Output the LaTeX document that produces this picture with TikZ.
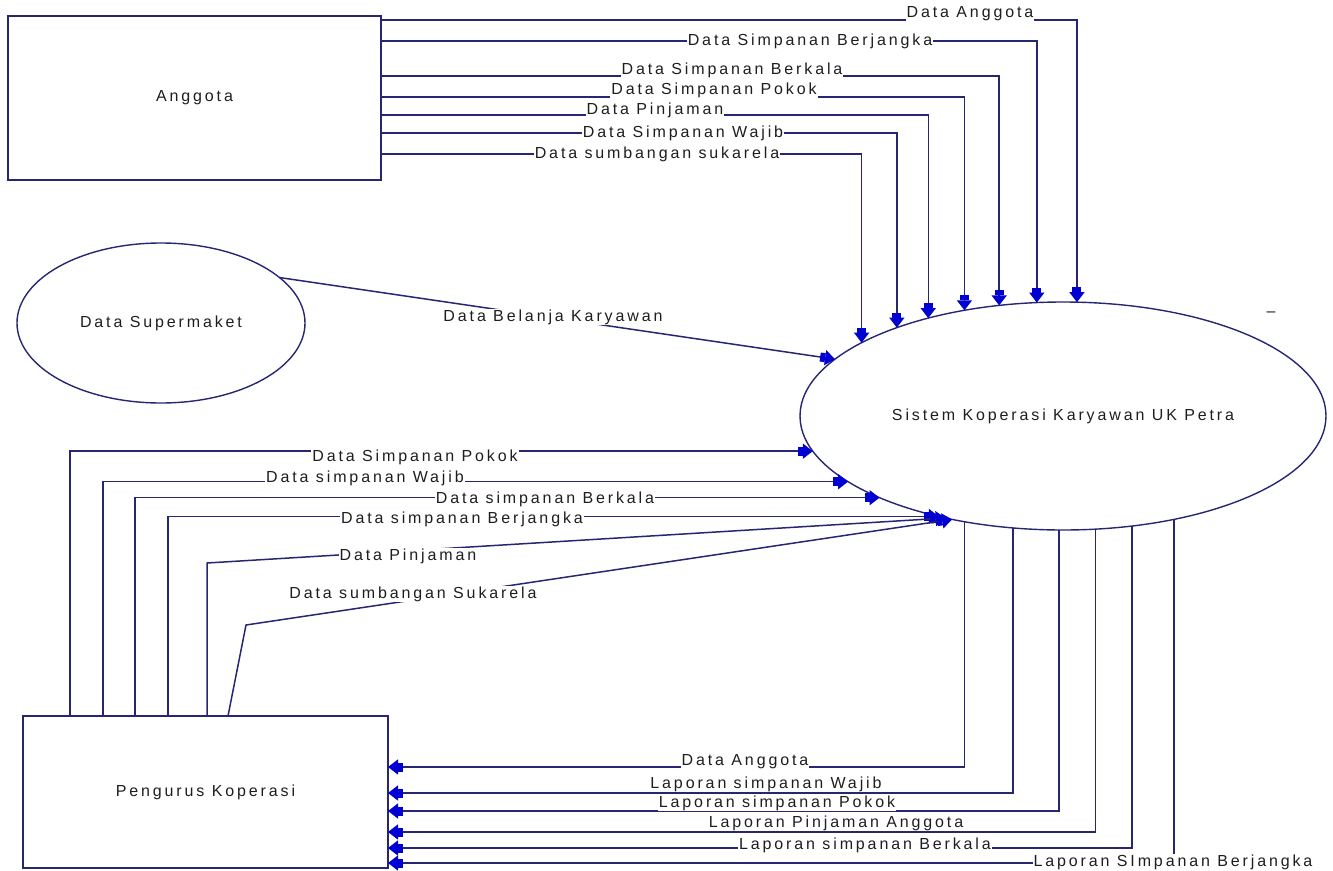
\documentclass[tikz,border=0pt]{standalone}
\usepackage{fontspec}
\setmainfont{Liberation Sans}[LetterSpace=18]
\usetikzlibrary{arrows.meta,shapes.geometric}
\definecolor{flowline}{RGB}{38,38,115}
\definecolor{tipblue}{RGB}{0,0,210}
\definecolor{inkgray}{RGB}{30,30,30}
\tikzset{
  entity/.style={draw=flowline, line width=1.6pt, rectangle, inner sep=0pt, outer sep=0pt},
  proc/.style={draw=flowline, line width=1.4pt, ellipse, inner sep=0pt, outer sep=0pt},
  flow/.style={draw=flowline, line width=1.5pt, -{Rectangle[length=5pt,width=9pt,color=tipblue] Triangle[length=10pt,width=15pt,color=tipblue]}},
  lbl/.style={fill=white, inner sep=1pt},
}
\begin{document}
\begin{tikzpicture}[x=1pt, y=-1pt, font=\fontsize{16}{19}\selectfont, text=inkgray]
      \useasboundingbox (0,0) rectangle (1333,870);
      % entitas dan proses
      \node[entity, minimum width=373pt, minimum height=164pt] (anggota) at (194.5,98) {Anggota};
      \node[entity, minimum width=365pt, minimum height=152pt] (pengurus) at (205.5,792) {Pengurus Koperasi};
      \node[proc, minimum width=288pt, minimum height=160pt] (super) at (161,323) {Data Supermaket};
      \node[proc, minimum width=526pt, minimum height=228pt] (sistem) at (1063,416) {Sistem Koperasi Karyawan UK Petra};
      \node (tanda) at (1271,314) {–};
      % anggota -> sistem
      \draw[flow] (anggota.east |- 0,20) -| (sistem.83.5);
      \draw[flow] (anggota.east |- 0,41) -| (sistem.103.4);
      \draw[flow] (anggota.east |- 0,76) -| (sistem.120.9);
      \draw[flow] (anggota.east |- 0,97) -| (sistem.133.5);
      \draw[flow] (anggota.east |- 0,115) -| (sistem.144.1);
      \draw[flow] (anggota.east |- 0,133) -| (sistem.152.7);
      \draw[flow] (anggota.east |- 0,154) -| (sistem.160.3);
      \draw[flow] (super.21.5) -- (sistem.166.3);
      % pengurus -> sistem
      \draw[flow] (pengurus.north -| 70,0) |- (sistem.188.7);
      \draw[flow] (pengurus.north -| 103,0) |- (sistem.197.9);
      \draw[flow] (pengurus.north -| 135,0) |- (sistem.204.2);
      \draw[flow] (pengurus.north -| 168,0) |- (sistem.219.6);
      \draw[flow] (pengurus.north -| 207,0) -- (207,563) -- (sistem.221.5);
      \draw[flow] (pengurus.north -| 228,0) -- (246,625) -- (sistem.223);
      % sistem -> pengurus
      \draw[flow] (sistem.227.9) |- (pengurus.east |- 0,767);
      \draw[flow] (sistem.246.8) |- (pengurus.east |- 0,793);
      \draw[flow] (sistem.268.5) |- (pengurus.east |- 0,811);
      \draw[flow] (sistem.286.3) |- (pengurus.east |- 0,832);
      \draw[flow] (sistem.302.9) |- (pengurus.east |- 0,848);
      \draw[flow] (sistem.317) |- (pengurus.east |- 0,863);
      % label aliran
      \node[lbl] (aAnggota) at (970,14) {Data Anggota};
      \node[lbl] (aBerjangka) at (810,41) {Data Simpanan Berjangka};
      \node[lbl] (aBerkala) at (732,70) {Data Simpanan Berkala};
      \node[lbl] (aPokok) at (714,90) {Data Simpanan Pokok};
      \node[lbl] (aPinjaman) at (655,110) {Data Pinjaman};
      \node[lbl] (aWajib) at (683,133) {Data Simpanan Wajib};
      \node[lbl] (aSukarela) at (657,154) {Data sumbangan sukarela};
      \node[lbl] (sBelanja) at (553,317) {Data Belanja Karyawan};
      \node[lbl] (pPokok) at (415,457) {Data Simpanan Pokok};
      \node[lbl] (pWajib) at (365,478) {Data simpanan Wajib};
      \node[lbl] (pBerkala) at (545,499) {Data simpanan Berkala};
      \node[lbl] (pBerjangka) at (462,519) {Data simpanan Berjangka};
      \node[lbl] (pPinjaman) at (408,556) {Data Pinjaman};
      \node[lbl] (pSukarela) at (413,594) {Data sumbangan Sukarela};
      \node[lbl] (kAnggota) at (745,762) {Data Anggota};
      \node[lbl, fill=none] (kWajib) at (766,784) {Laporan simpanan Wajib};
      \node[lbl] (kPokok) at (777,803) {Laporan simpanan Pokok};
      \node[lbl, fill=none] (kPinjaman) at (836,823) {Laporan Pinjaman Anggota};
      \node[lbl] (kBerkala) at (865,845) {Laporan simpanan Berkala};
      \node[lbl] (kBerjangka) at (1173,862) {Laporan SImpanan Berjangka};
\end{tikzpicture}
\end{document}
